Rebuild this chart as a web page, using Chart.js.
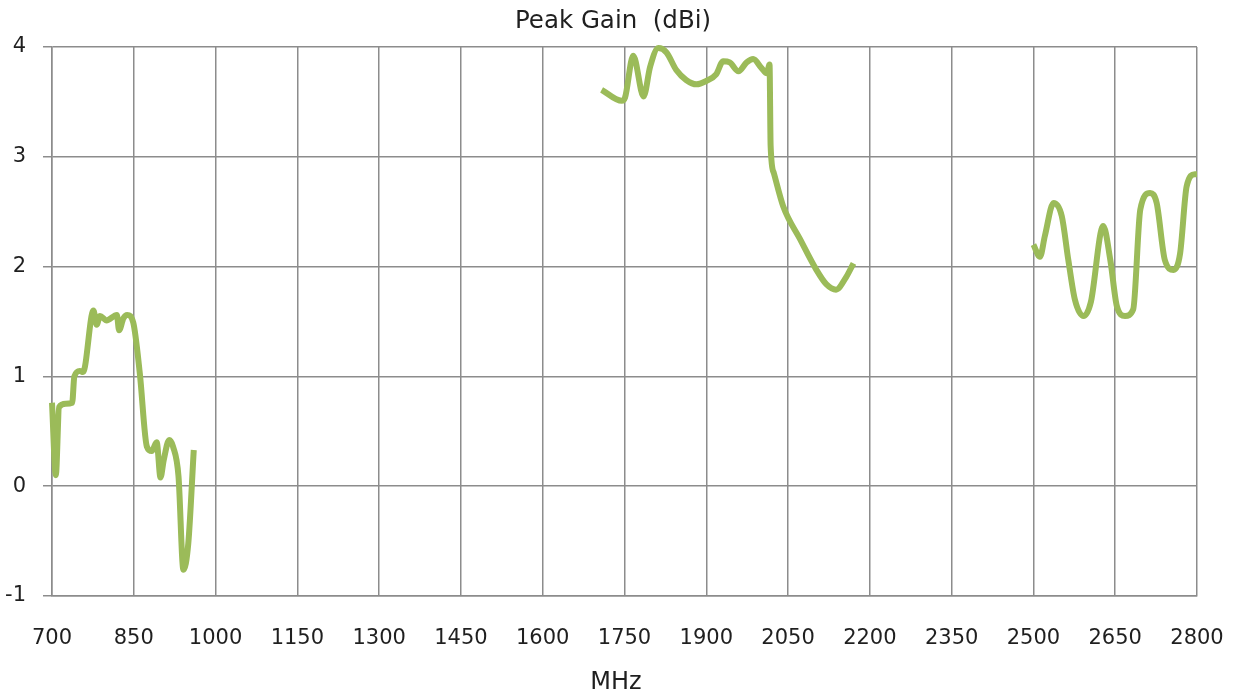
<!DOCTYPE html>
<html>
<head>
<meta charset="utf-8">
<script src="https://cdn.jsdelivr.net/npm/chart.js@4.4.0/dist/chart.umd.min.js"></script>
<style>
  html, body { margin: 0; padding: 0; background: #ffffff; }
  #wrap { width: 1234px; height: 697px; }
</style>
</head>
<body>
<div id="wrap"><canvas id="c" width="1234" height="697"></canvas></div>
<script>
const chartTitle = "Peak Gain  (dBi)";
const xTitle = "MHz";

const freqLow = [700, 707, 713, 725, 737, 741, 751, 757, 776, 782, 788, 800, 819, 823, 831, 838, 849, 861, 874, 883, 892, 899, 905, 915, 922, 932, 941, 950, 960];
const gainLow = [0.76, 0.10, 0.72, 0.75, 0.76, 1.00, 1.05, 1.04, 1.60, 1.47, 1.55, 1.51, 1.56, 1.42, 1.53, 1.56, 1.49, 1.03, 0.36, 0.32, 0.40, 0.08, 0.24, 0.42, 0.36, 0.09, -0.76, -0.52, 0.33];

const freqMid = [1708, 1745, 1751, 1766, 1785, 1797, 1812, 1827, 1845, 1863, 1882, 1900, 1918, 1931, 1943, 1959, 1974, 1986, 2001, 2011, 2016, 2018, 2024, 2041, 2072, 2102, 2120, 2138, 2156, 2170];
const gainMid = [3.61, 3.51, 3.54, 3.92, 3.55, 3.82, 3.99, 3.95, 3.79, 3.70, 3.66, 3.69, 3.75, 3.87, 3.86, 3.78, 3.86, 3.89, 3.81, 3.76, 3.84, 3.10, 2.85, 2.55, 2.25, 1.97, 1.84, 1.79, 1.90, 2.03];

const freqHigh = [2500, 2512, 2521, 2537, 2552, 2564, 2576, 2592, 2605, 2628, 2641, 2653, 2668, 2683, 2696, 2714, 2726, 2741, 2757, 2769, 2781, 2796, 2800];
const gainHigh = [2.20, 2.09, 2.28, 2.58, 2.46, 2.06, 1.70, 1.55, 1.67, 2.37, 2.06, 1.64, 1.55, 1.61, 2.52, 2.67, 2.58, 2.06, 1.97, 2.12, 2.73, 2.84, 2.84];

const xMin = 700, xMax = 2800, xStep = 150;
const yMin = -1, yMax = 4, yStep = 1;

function pts(xs, ys) { return xs.map((x, i) => ({ x: x, y: ys[i] })); }

const lineColor = '#9BBB59';
const gridColor = '#8c8c8c';
const textColor = '#1f1f1f';
const fontFamily = "'DejaVu Sans', Verdana, sans-serif";

function seg(xs, ys) {
  return {
    data: pts(xs, ys),
    borderColor: lineColor,
    backgroundColor: lineColor,
    borderWidth: 6,
    pointRadius: 0,
    cubicInterpolationMode: 'monotone',
    fill: false,
    clip: false
  };
}

// Chart title and axis title centred on the whole picture, as in the reference
const titlesPlugin = {
  id: 'titles',
  afterDraw(chart) {
    const ctx = chart.ctx;
    ctx.save();
    ctx.fillStyle = textColor;
    ctx.textAlign = 'center';
    ctx.textBaseline = 'middle';
    ctx.font = "24.5px " + fontFamily;
    ctx.fillText(chartTitle, 613, 22);
    ctx.font = "24px " + fontFamily;
    ctx.fillText(xTitle, 616, 683);
    ctx.restore();
  }
};

new Chart(document.getElementById('c'), {
  type: 'line',
  data: {
    datasets: [seg(freqLow, gainLow), seg(freqMid, gainMid), seg(freqHigh, gainHigh)]
  },
  plugins: [titlesPlugin],
  options: {
    responsive: false,
    animation: false,
    layout: { padding: { left: 0, right: 37, top: 47, bottom: 0 } },
    plugins: {
      legend: { display: false },
      tooltip: { enabled: false },
      title: { display: false }
    },
    scales: {
      x: {
        type: 'linear',
        min: xMin, max: xMax,
        afterFit: (s) => { s.height = 101; s.paddingLeft = 0; s.paddingRight = 0; },
        ticks: {
          stepSize: xStep,
          autoSkip: false,
          maxRotation: 0,
          padding: 30,
          color: textColor,
          font: { family: fontFamily, size: 21 },
          callback: (v) => String(v)
        },
        grid: { color: gridColor, lineWidth: 1.5, drawTicks: false },
        border: { display: true, color: gridColor, width: 1.5 },
        title: { display: false }
      },
      y: {
        type: 'linear',
        min: yMin, max: yMax,
        afterFit: (s) => { s.width = 52; s.paddingTop = 0; s.paddingBottom = 0; },
        ticks: {
          stepSize: yStep,
          padding: 17,
          color: textColor,
          font: { family: fontFamily, size: 21 },
          callback: (v) => String(v)
        },
        grid: { color: gridColor, lineWidth: 1.5, drawTicks: true, tickLength: 9, tickColor: gridColor },
        border: { display: true, color: gridColor, width: 1.5 }
      }
    }
  }
});
</script>
</body>
</html>
